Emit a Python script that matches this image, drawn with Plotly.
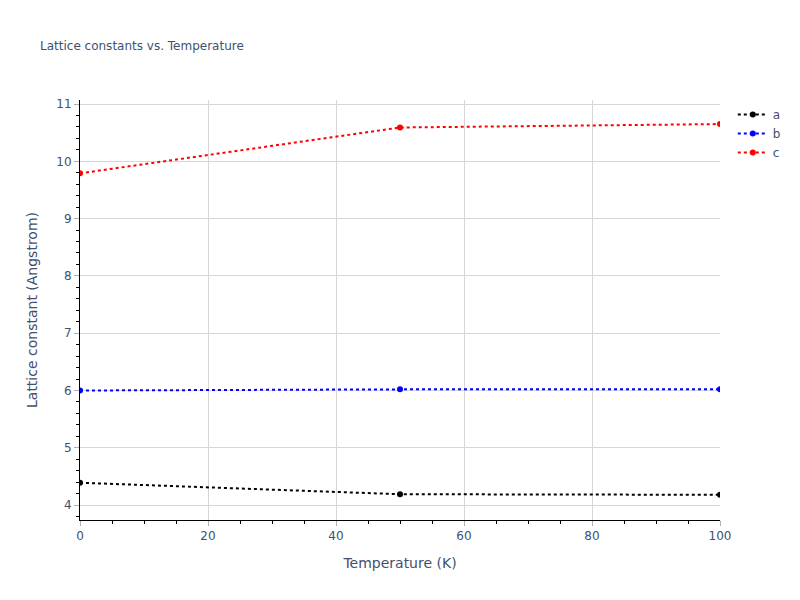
import plotly.graph_objects as go

temperature = [0, 50, 100]
lattice_a = [4.39, 4.19, 4.18]
lattice_b = [6.00, 6.02, 6.02]
lattice_c = [9.79, 10.59, 10.65]

series = [
    ("a", lattice_a, "black"),
    ("b", lattice_b, "blue"),
    ("c", lattice_c, "red"),
]

fig = go.Figure()
for name, values, color in series:
    fig.add_trace(go.Scatter(
        x=temperature,
        y=values,
        mode="lines+markers",
        name=name,
        line=dict(color=color, dash="dot", width=2),
        marker=dict(color=color, size=6),
    ))

axis_style = dict(
    showline=True,
    linecolor="black",
    ticks="outside",
    tickcolor="#b0b0b0",
    gridcolor="#d6d6d6",
    minor=dict(ticks="outside", tickcolor="black", showgrid=False),
    zeroline=False,
)

fig.update_layout(
    template="plotly_white",
    width=800,
    height=600,
    font=dict(family="DejaVu Sans", color="#42506e"),
    title=dict(text="Lattice constants vs. Temperature", font=dict(size=12), x=0.05),
    xaxis=dict(title="Temperature (K)", range=[0, 100], **axis_style),
    yaxis=dict(title="Lattice constant (Angstrom)", range=[3.74, 11.07], **axis_style),
)

# drop the page margin so the 800x600 figure sits at the window origin
fig.write_html(
    "out.html",
    config={"displayModeBar": False},
    post_script="document.body.style.margin = '0';",
)
